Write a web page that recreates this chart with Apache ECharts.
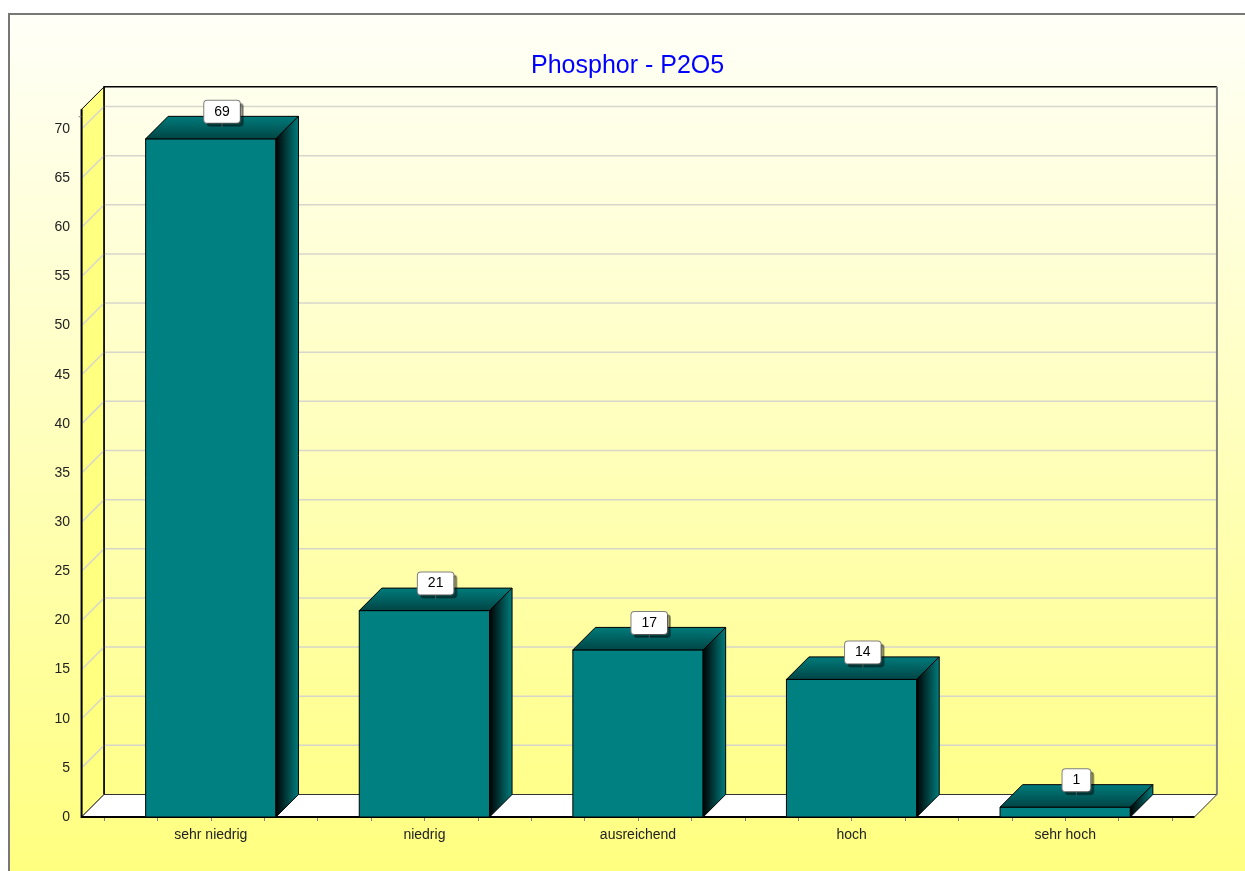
<!DOCTYPE html>
<html>
<head>
<meta charset="utf-8">
<title>Phosphor - P2O5</title>
<script src="https://cdn.jsdelivr.net/npm/echarts@6/dist/echarts.min.js"></script>
<style>
  html, body { margin: 0; padding: 0; background: #fff; }
  #chart { width: 1245px; height: 871px; }
</style>
</head>
<body>
<div id="chart"></div>
<script>
// data
var categories = ['sehr niedrig', 'niedrig', 'ausreichend', 'hoch', 'sehr hoch'];
var values = [69, 21, 17, 14, 1];
var yMin = 0;
var yMax = 70;
var yStep = 5;

// 3D look
var DEPTH = 22.5;        // px, offset of the back wall
var BAR_WIDTH = 0.61;    // in category units
var X_MIN = -0.605;      // walls reach a bit past the category band
var X_MAX = 4.605;
var Y_TOP = 72;          // top of the walls
var FONT = '"Liberation Sans", Arial, sans-serif';

function shift(p, d) {
  return [p[0] + d, p[1] - d];
}

// walls, floor, grid lines and the front axis lines
function renderFrame(params, api) {
  var d = DEPTH;
  var p0 = api.coord([X_MIN, 0]);
  var p1 = api.coord([X_MAX, 0]);
  var pt = api.coord([X_MIN, Y_TOP]);
  var pr = api.coord([X_MAX, Y_TOP]);
  var children = [];

  // left wall
  children.push({
    type: 'polygon',
    shape: { points: [p0, pt, shift(pt, d), shift(p0, d)] },
    style: { fill: '#ffff80', stroke: '#000', lineWidth: 1 }
  });
  // floor
  children.push({
    type: 'polygon',
    shape: { points: [p0, p1, shift(p1, d), shift(p0, d)] },
    style: { fill: '#ffffff', stroke: '#333', lineWidth: 1 }
  });
  // grid lines, across left wall and back wall
  for (var v = yMin + yStep; v <= yMax; v += yStep) {
    var a = api.coord([X_MIN, v]);
    var b = api.coord([X_MAX, v]);
    children.push({
      type: 'polyline',
      shape: { points: [a, shift(a, d), shift(b, d)] },
      style: { stroke: '#d6d6cc', lineWidth: 1.5, fill: null }
    });
  }
  // back wall edges
  children.push({
    type: 'polyline',
    shape: { points: [shift(p0, d), shift(pt, d), shift(pr, d)] },
    style: { stroke: '#000', lineWidth: 1.5, fill: null }
  });
  children.push({
    type: 'line',
    shape: { x1: pr[0] + d, y1: pr[1] - d, x2: p1[0] + d, y2: p1[1] - d },
    style: { stroke: '#808080', lineWidth: 2 }
  });
  // front axis lines
  children.push({
    type: 'polyline',
    shape: { points: [pt, p0, p1] },
    style: { stroke: '#000', lineWidth: 2, fill: null }
  });
  // minor tick above the last labelled value
  var m = api.coord([X_MIN, yMax + yStep / 4]);
  children.push({
    type: 'line',
    shape: { x1: m[0] - 3, y1: m[1], x2: m[0], y2: m[1] },
    style: { stroke: '#808080', lineWidth: 1 }
  });
  return { type: 'group', children: children };
}

// one 3D bar with its value box
function renderBar(params, api) {
  var d = DEPTH;
  var idx = api.value(0);
  var val = api.value(1);
  var base = api.coord([idx, 0]);
  var top = api.coord([idx, val]);
  var w = api.size([BAR_WIDTH, 0])[0];
  var x0 = base[0] - w / 2, x1 = base[0] + w / 2;
  var yb = base[1], yt = top[1];
  var lx = base[0] + d / 2, ly = yt - 16;

  return {
    type: 'group',
    children: [
      {
        type: 'rect',
        shape: { x: x0, y: yt, width: w, height: yb - yt },
        style: { fill: '#008080', stroke: '#000', lineWidth: 1 }
      },
      {
        type: 'polygon',
        shape: { points: [[x0, yt], [x1, yt], [x1 + d, yt - d], [x0 + d, yt - d]] },
        style: {
          fill: new echarts.graphic.LinearGradient(0, 0, 0, 1, [
            { offset: 0, color: '#007c7c' },
            { offset: 1, color: '#004444' }
          ]),
          stroke: '#000', lineWidth: 1
        }
      },
      {
        type: 'polygon',
        shape: { points: [[x1, yt], [x1 + d, yt - d], [x1 + d, yb - d], [x1, yb]] },
        style: {
          fill: new echarts.graphic.LinearGradient(0, 0, 1, 0, [
            { offset: 0, color: '#000000' },
            { offset: 1, color: '#008080' }
          ]),
          stroke: '#000', lineWidth: 1
        }
      },
      {
        type: 'line',
        shape: { x1: lx, y1: ly, x2: lx, y2: ly + 4 },
        style: { stroke: '#999', lineWidth: 1 }
      },
      {
        type: 'text',
        style: {
          text: String(val),
          x: lx, y: ly,
          align: 'center', verticalAlign: 'bottom',
          font: '14px ' + FONT,
          lineHeight: 16,
          fill: '#000',
          backgroundColor: '#ffffff',
          borderColor: '#808080', borderWidth: 1, borderRadius: 3,
          padding: [3, 10, 3, 10],
          shadowColor: 'rgba(0,0,0,0.35)', shadowOffsetX: 3, shadowOffsetY: 3, shadowBlur: 0
        }
      }
    ]
  };
}

var barData = values.map(function (v, i) { return [i, v]; });

var option = {
  animation: false,
  backgroundColor: '#ffffff',
  graphic: [{
    type: 'rect',
    z: -10,
    silent: true,
    shape: { x: 9, y: 14, width: 1260, height: 880 },
    style: {
      fill: {
        type: 'linear', x: 0, y: 0, x2: 0, y2: 1,
        colorStops: [
          { offset: 0, color: '#fffff8' },
          { offset: 1, color: '#ffff7c' }
        ]
      },
      stroke: '#777', lineWidth: 2
    }
  }],
  title: {
    text: 'Phosphor - P2O5',
    left: 531,
    top: 54,
    padding: 0,
    textStyle: { color: '#0000ff', fontSize: 25, fontWeight: 'normal', fontFamily: FONT }
  },
  grid: { left: 104, right: 73, top: 129, bottom: 54 },
  xAxis: {
    type: 'value',
    min: -0.5,
    max: 4.5,
    interval: 0.25,
    axisLine: { show: false },
    axisTick: { show: true, length: 4, lineStyle: { color: '#808080' } },
    splitLine: { show: false },
    axisLabel: {
      margin: 11,
      fontSize: 14,
      fontFamily: FONT,
      color: '#222',
      formatter: function (v) {
        var r = Math.round(v);
        return Math.abs(v - r) < 1e-6 && categories[r] ? categories[r] : '';
      }
    }
  },
  yAxis: {
    type: 'value',
    min: yMin,
    max: yMax,
    interval: yStep,
    offset: 22,
    axisLine: { show: false },
    axisTick: { show: true, length: 5, lineStyle: { color: '#808080' } },
    minorTick: { show: true, splitNumber: 4, length: 3, lineStyle: { color: '#808080' } },
    splitLine: { show: false },
    axisLabel: { margin: 12, fontSize: 14, fontFamily: FONT, color: '#222' }
  },
  series: [
    {
      type: 'custom',
      z: 1,
      silent: true,
      renderItem: renderFrame,
      data: [[0, 0]]
    },
    {
      type: 'custom',
      z: 3,
      renderItem: renderBar,
      encode: { x: 0, y: 1 },
      data: barData
    }
  ]
};

var chart = echarts.init(document.getElementById('chart'));
chart.setOption(option);
</script>
</body>
</html>
